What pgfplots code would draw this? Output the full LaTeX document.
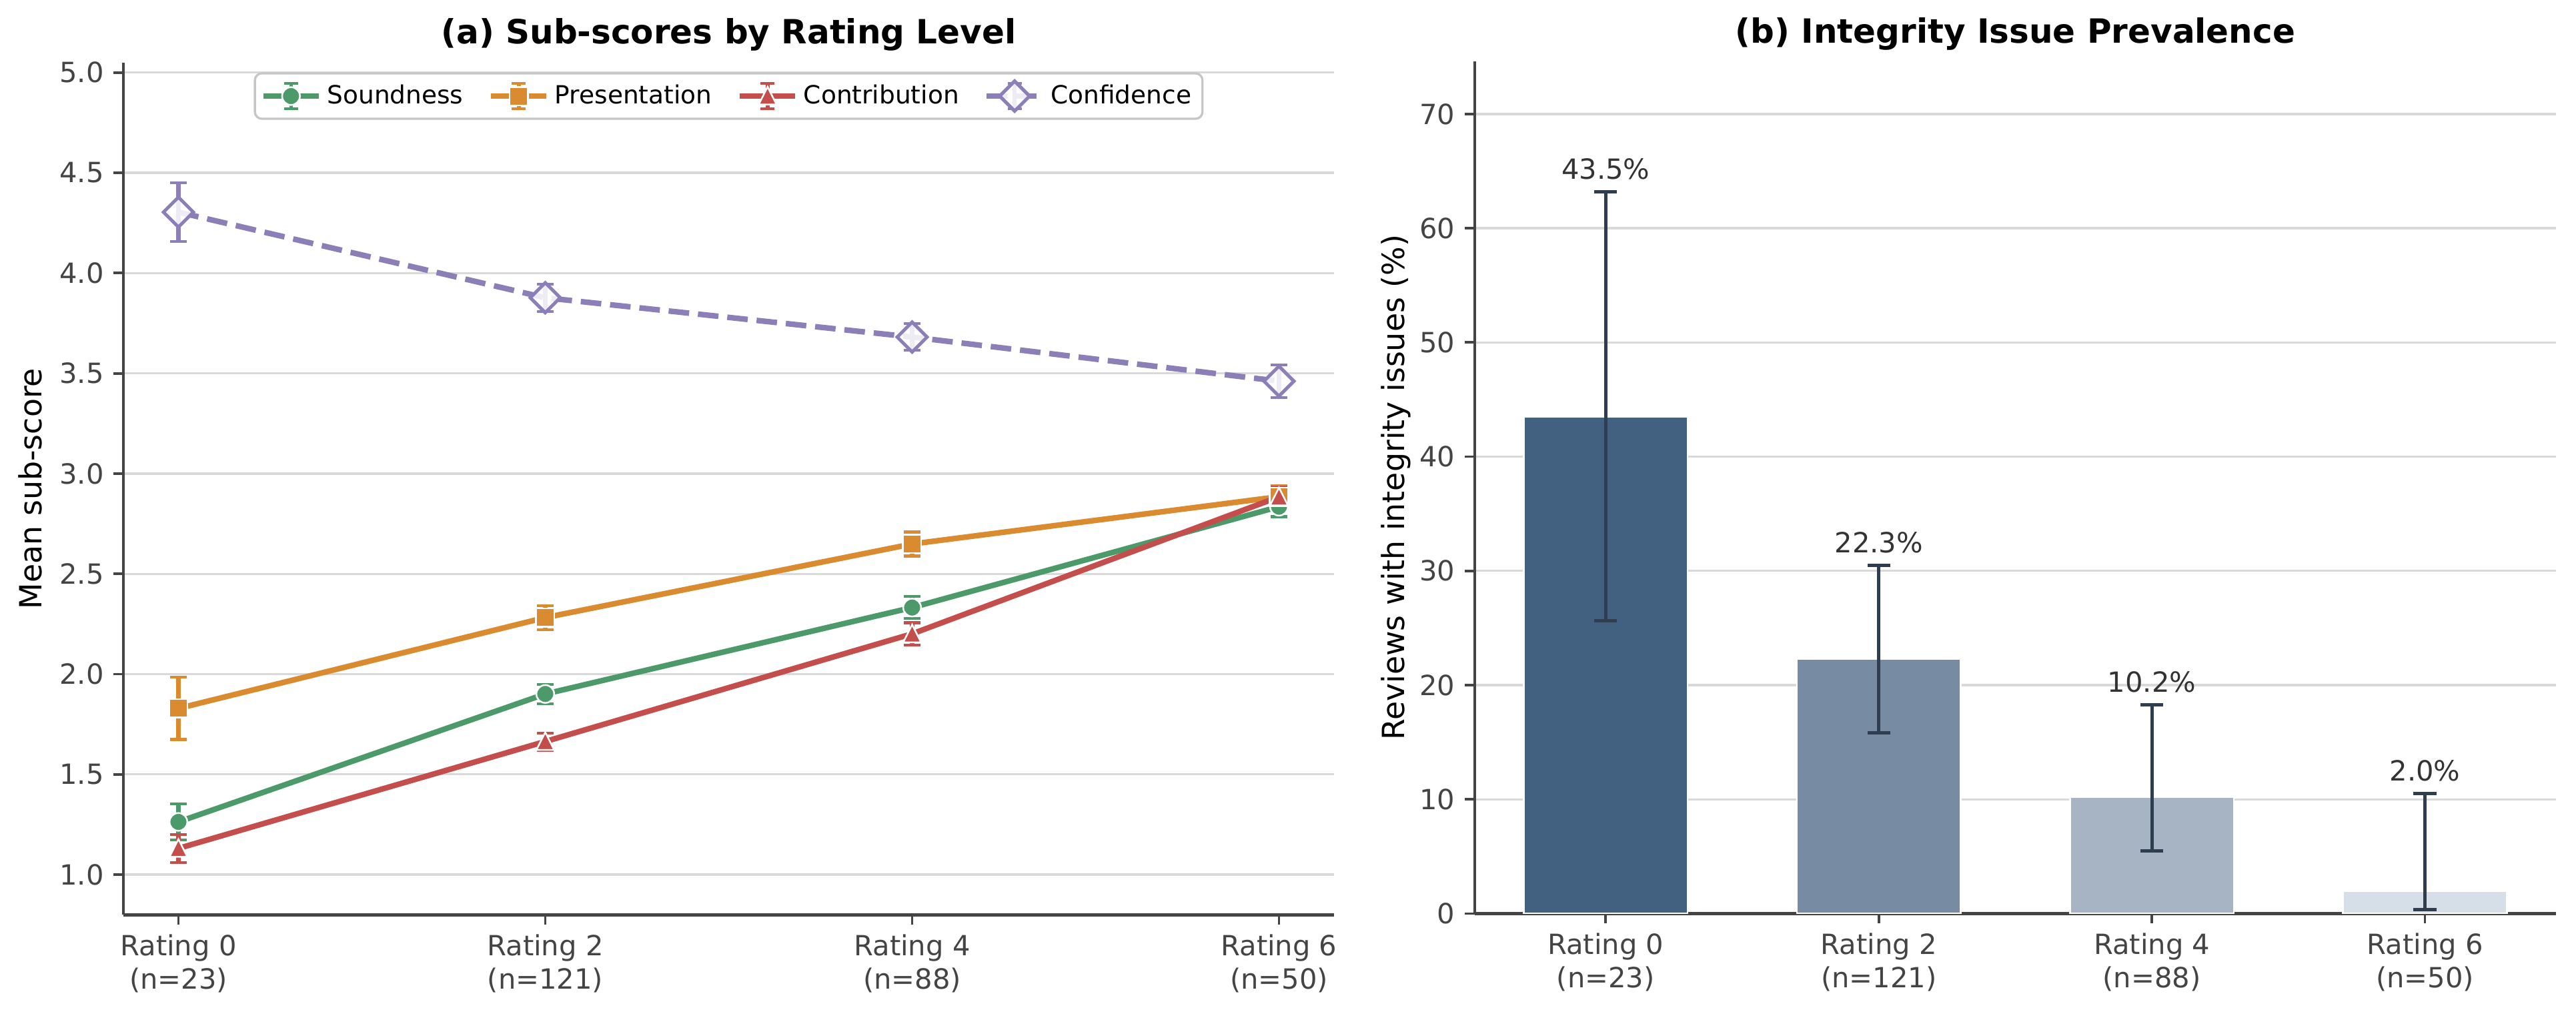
\documentclass[border=0pt]{standalone}
\usepackage{fontspec}
\setmainfont{DejaVu Sans}
\usepackage{pgfplots}
\usepackage{pgfplotstable}
\pgfplotsset{compat=1.18}

\definecolor{cSound}{HTML}{4C9A6A}
\definecolor{cPres}{HTML}{DB8B2F}
\definecolor{cContr}{HTML}{C44E4B}
\definecolor{cConf}{HTML}{8C7FB8}
\definecolor{barA}{HTML}{42607F}
\definecolor{barB}{HTML}{778BA3}
\definecolor{barC}{HTML}{A6B4C4}
\definecolor{barD}{HTML}{D6DEE7}
\definecolor{errDark}{HTML}{2E3E50}
\definecolor{spine}{HTML}{444444}
\definecolor{tickgray}{HTML}{444444}
\definecolor{gridgray}{HTML}{D9D9D9}
\definecolor{labeltext}{HTML}{333333}

% mean sub-score per rating level and half-width of its error bar
\pgfplotstableread{
x y e
0 1.263 0.090
1 1.901 0.048
2 2.332 0.055
3 2.835 0.050
}\soundness
\pgfplotstableread{
x y e
0 1.829 0.155
1 2.282 0.060
2 2.649 0.060
3 2.885 0.055
}\presentation
\pgfplotstableread{
x y e
0 1.131 0.070
1 1.664 0.043
2 2.201 0.055
3 2.884 0.050
}\contribution
\pgfplotstableread{
x y e
0 4.304 0.146
1 3.877 0.068
2 3.681 0.067
3 3.461 0.081
}\confidence

% share of reviews with integrity issues (%), with Wilson interval bounds
\pgfplotstableread{
x y lo hi
0 43.5 25.63 63.19
1 22.3 15.81 30.51
2 10.2 5.47 18.31
3 2.0 0.35 10.50
}\integrity

\pgfplotsset{
  panel/.style={
    scale only axis,
    axis lines=left,
    axis line style={-, spine, line width=1.1pt},
    tick align=outside,
    major tick length=3.5pt,
    tick style={spine, line width=0.9pt},
    ymajorgrids,
    grid style={gridgray, line width=0.8pt},
    ticklabel style={font=\fontsize{10}{12}\selectfont, text=tickgray},
    xticklabel style={align=center},
    /pgf/number format/assume math mode=true,
    label style={font=\fontsize{11}{13}\selectfont, text=black},
    every axis title/.style={at={(0.5,1)}, anchor=base, inner sep=0pt, yshift=6.7pt,
      font=\bfseries\fontsize{12}{14}\selectfont},
    xtick={0,1,2,3},
    xticklabels={{Rating 0\\(n=23)},{Rating 2\\(n=121)},{Rating 4\\(n=88)},{Rating 6\\(n=50)}},
  },
  subscore/.style={
    line width=2pt,
    error bars/y dir=both,
    error bars/y explicit,
    error bars/error mark=|,
    error bars/error bar style={solid, line width=1.8pt, #1},
    error bars/error mark options={solid, line width=1pt, mark size=3.05pt, #1},
  },
}

\begin{document}
\begin{tikzpicture}
\path[use as bounding box] (0,0) rectangle (926.9pt,364.6pt);

% (a) sub-scores
\begin{axis}[panel,
  at={(44.4pt,35.5pt)}, anchor=south west,
  width=435.6pt, height=306.6pt,
  xmin=-0.15, xmax=3.15,
  ymin=0.8, ymax=5.05,
  ytick={1,1.5,2,2.5,3,3.5,4,4.5,5},
  yticklabel style={/pgf/number format/.cd, fixed, fixed zerofill, precision=1},
  title={(a) Sub-scores by Rating Level},
  ylabel={Mean sub-score},
  ylabel style={at={(axis description cs:-0.0769,0.5)}, anchor=center},
  legend columns=4,
  legend style={at={(0.5,0.9886)}, anchor=north, draw=gray!45, fill=white,
    rounded corners=2.5pt, line width=0.8pt, inner sep=2pt,
    font=\fontsize{9}{11}\selectfont,
    /tikz/every even column/.append style={column sep=7pt}},
  legend image code/.code={
    \draw[#1, mark=none] (0pt,0pt) -- (20pt,0pt);
    \draw[#1, mark=none, solid, line width=1.3pt] (10pt,-4.6pt) -- (10pt,4.6pt);
    \draw[#1, mark=none, solid, line width=1pt] (7.5pt,4.6pt) -- (12.5pt,4.6pt) (7.5pt,-4.6pt) -- (12.5pt,-4.6pt);
    \draw[#1] plot coordinates {(10pt,0pt)};
  },
]
\addplot[cSound, subscore=cSound, mark=*, mark size=3.2pt,
  mark options={solid, fill=cSound, draw=white, line width=0.6pt}]
  table[x=x, y=y, y error=e] {\soundness};
\addlegendentry{Soundness}
\addplot[cPres, subscore=cPres, mark=square*, mark size=3.3pt,
  mark options={solid, fill=cPres, draw=white, line width=0.6pt}]
  table[x=x, y=y, y error=e] {\presentation};
\addlegendentry{Presentation}
\addplot[cContr, subscore=cContr, mark=triangle*, mark size=3.7pt,
  mark options={solid, yscale=1.15, yshift=-0.8pt, fill=cContr, draw=white, line width=0.6pt}]
  table[x=x, y=y, y error=e] {\contribution};
\addlegendentry{Contribution}
\addplot[cConf, subscore=cConf, dash pattern=on 7.4pt off 3.2pt, mark=square*, mark size=3.8pt,
  mark options={solid, rotate=45, fill=white, fill opacity=0.85, draw=cConf, line width=1.2pt}]
  table[x=x, y=y, y error=e] {\confidence};
\addlegendentry{Confidence}
\end{axis}

% (b) integrity issues
\begin{axis}[panel,
  at={(530.6pt,35.9pt)}, anchor=south west,
  width=389.1pt, height=306.6pt,
  xmin=-0.48, xmax=3.48,
  ymin=0, ymax=74.6,
  ytick={0,10,20,30,40,50,60,70},
  title={(b) Integrity Issue Prevalence},
  ylabel={Reviews with integrity issues (\%)},
  ylabel style={at={(axis description cs:-0.0727,0.5)}, anchor=center},
]
\addplot[ybar, bar width=0.6, bar shift=0pt, fill=barA, draw=white, line width=0.6pt]
  table[x=x, y=y, restrict x to domain=0:0] {\integrity};
\addplot[ybar, bar width=0.6, bar shift=0pt, fill=barB, draw=white, line width=0.6pt]
  table[x=x, y=y, restrict x to domain=1:1] {\integrity};
\addplot[ybar, bar width=0.6, bar shift=0pt, fill=barC, draw=white, line width=0.6pt]
  table[x=x, y=y, restrict x to domain=2:2] {\integrity};
\addplot[ybar, bar width=0.6, bar shift=0pt, fill=barD, draw=white, line width=0.6pt]
  table[x=x, y=y, restrict x to domain=3:3] {\integrity};
% interval whiskers
\addplot[draw=none, mark=none,
  error bars/y dir=both, error bars/y explicit,
  error bars/error mark=|,
  error bars/error bar style={draw=errDark, line width=1.2pt},
  error bars/error mark options={draw=errDark, line width=1.2pt, mark size=4.1pt}]
  table[x=x, y=y, y error plus expr=\thisrow{hi}-\thisrow{y}, y error minus expr=\thisrow{y}-\thisrow{lo}] {\integrity};
% percentage labels above the whiskers
\addplot[draw=none, mark=none, point meta=\thisrow{y},
  nodes near coords={\pgfmathprintnumber[fixed, fixed zerofill, precision=1, assume math mode=true]{\pgfplotspointmeta}\%},
  nodes near coords style={anchor=base, inner sep=0pt, font=\fontsize{10}{12}\selectfont, text=labeltext}]
  table[x=x, y expr=\thisrow{hi}+1.1] {\integrity};
\end{axis}
\end{tikzpicture}
\end{document}
